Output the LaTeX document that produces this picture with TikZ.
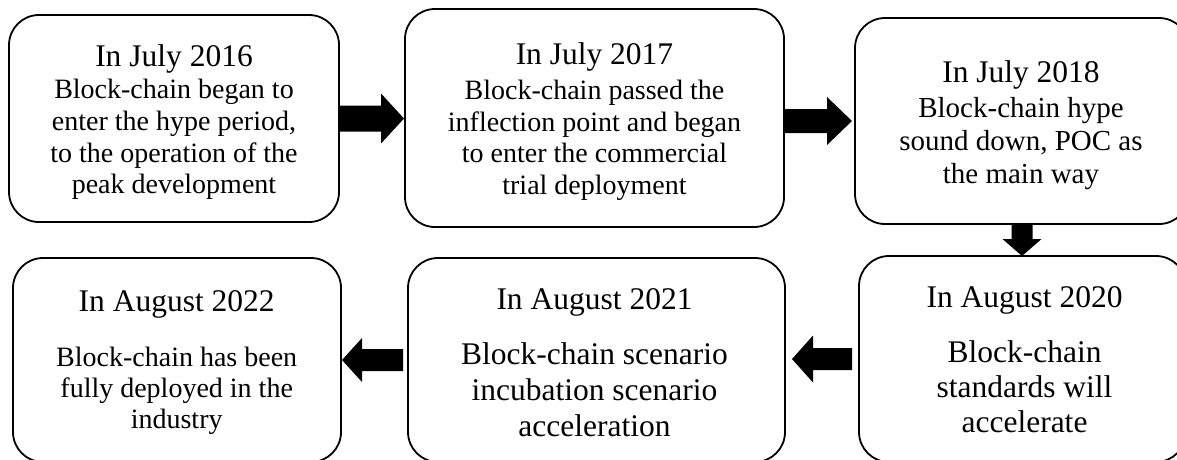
\documentclass[tikz,border=0pt]{standalone}
\usepackage{fontspec}
\setmainfont{Liberation Serif}
\usetikzlibrary{calc}

\tikzset{
  stage/.style={rectangle, draw=black, fill=white, line width=1.8pt,
    rounded corners=30pt, inner sep=0pt, outer sep=0pt},
  stagetext/.style={anchor=north, align=center, inner sep=0pt,
    outer sep=0pt, text=black},
  blockfill/.style={fill=black},
}
\newcommand\titlesize{\fontsize{31.5pt}{36pt}\selectfont}
\newcommand\bodysize[2]{\fontsize{#1}{#2}\selectfont}

% Block arrow from #1 to #2: shaft half-width #3, head half-width #4,
% head length #5, gap at start #6, gap at tip #7
\newcommand\blockarrow[7]{%
  \path ($(#1)!#6!(#2)$) coordinate (arrS)
        ($(#2)!#7!(#1)$) coordinate (arrT);
  \path ($(arrT)!#5!(arrS)$) coordinate (arrH);
  \fill[blockfill] ($(arrS)!#3!90:(arrT)$) -- ($(arrH)!#3!90:(arrT)$)
    -- ($(arrH)!#4!90:(arrT)$) -- (arrT) -- ($(arrH)!#4!-90:(arrT)$)
    -- ($(arrH)!#3!-90:(arrT)$) -- ($(arrS)!#3!-90:(arrT)$) -- cycle;
}

\begin{document}
\begin{tikzpicture}[x=1pt,y=-1pt]
\fill[white] (0,0) rectangle (1177,459);
\useasboundingbox (0,0) rectangle (1177,459);
\clip (0,0) rectangle (1177,459);

% stage boxes
\node[stage, minimum width=330pt, minimum height=207pt] (b1) at (174,118.5) {};
\node[stage, minimum width=379pt, minimum height=218pt] (b2) at (594.5,118) {};
\node[stage, minimum width=334pt, minimum height=206pt] (b3) at (1022,121) {};
\node[stage, minimum width=327pt, minimum height=206pt] (b4) at (1022.5,359) {};
\node[stage, minimum width=377pt, minimum height=204pt] (b5) at (596.5,360) {};
\node[stage, minimum width=328pt, minimum height=204pt] (b6) at (177,360) {};

% stage texts
\node[stagetext, font=\bodysize{28pt}{31.7pt}] (t1) at (174,45)
  {{\titlesize In July 2016}\\[0.3pt]
   Block-chain began to\\ enter the hype period,\\
   to the operation of the\\ peak development};
\node[stagetext, font=\bodysize{28pt}{31.5pt}] (t2) at (594.5,43)
  {{\titlesize In July 2017}\\[3.5pt]
   Block-chain passed the\\ inflection point and began\\
   to enter the commercial\\ trial deployment};
\node[stagetext, font=\bodysize{29pt}{33pt}] (t3) at (1021,60.3)
  {{\titlesize In July 2018}\\[2pt]
   Block-chain hype\\ sound down, POC as\\ the main way};
\node[stagetext, font=\bodysize{31.5pt}{35pt}] (t4) at (1024.5,286.7)
  {{\titlesize In August 2020}\\[20pt]
   Block-chain\\ standards will\\ accelerate};
\node[stagetext, font=\bodysize{31.5pt}{36pt}] (t5) at (594.5,288.7)
  {{\titlesize In August 2021}\\[19pt]
   Block-chain scenario\\ incubation scenario\\ acceleration};
\node[stagetext, font=\bodysize{28pt}{31pt}] (t6) at (176.7,291)
  {{\titlesize In August 2022}\\[24pt]
   Block-chain has been\\ fully deployed in the\\ industry};

% block arrows between stages
\blockarrow{b1.east}{b1.east -| b2.west}{13pt}{25pt}{23pt}{0pt}{1pt}
\blockarrow{b3.west -| b2.east}{b3.west}{12pt}{24pt}{25pt}{0pt}{3pt}
\blockarrow{b3.south}{b3.south |- b4.north}{10.5pt}{19.5pt}{17pt}{0pt}{0pt}
\blockarrow{b4.west}{b4.west -| b5.east}{11pt}{23.5pt}{21pt}{7pt}{7pt}
\blockarrow{b5.west}{b5.west -| b6.east}{11pt}{22pt}{20pt}{5pt}{1pt}
\end{tikzpicture}
\end{document}
